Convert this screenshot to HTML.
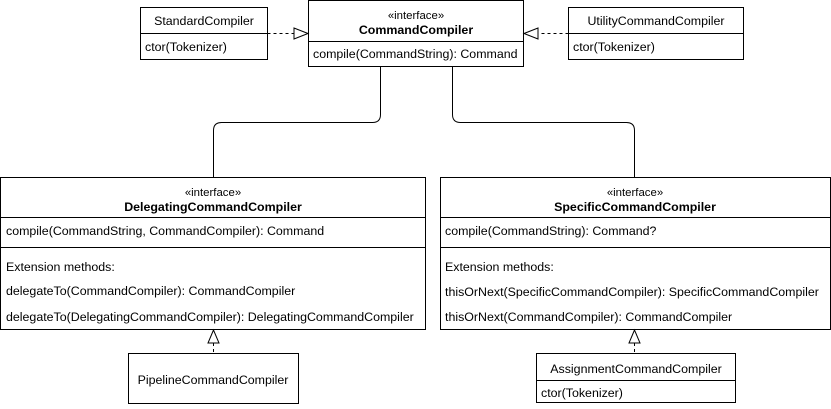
<!DOCTYPE html>
<html><head><meta charset="utf-8"><style>
html,body{margin:0;padding:0;background:#fff;}
svg{display:block;}
text{font-family:"Liberation Sans",Arial,sans-serif;font-size:12.4px;fill:#000;}
.b{font-weight:bold;}
.s{font-size:11.4px;}
</style></head><body>
<svg width="831" height="409" viewBox="0 0 831 409" xmlns="http://www.w3.org/2000/svg">
<g fill="#fff" stroke="#000" stroke-width="1">
<rect x="140.5" y="7.5" width="127" height="52"/>
<line x1="140.5" y1="33.5" x2="267.5" y2="33.5"/>
<rect x="308.5" y="0.5" width="215" height="66"/>
<line x1="308.5" y1="41.5" x2="523.5" y2="41.5"/>
<rect x="568.5" y="7.5" width="175" height="52"/>
<line x1="568.5" y1="33.5" x2="743.5" y2="33.5"/>
<rect x="0.5" y="177.5" width="425" height="152"/>
<line x1="0.5" y1="217.5" x2="425.5" y2="217.5"/>
<line x1="0.5" y1="247.5" x2="425.5" y2="247.5"/>
<rect x="440.5" y="177.5" width="390" height="152"/>
<line x1="440.5" y1="217.5" x2="830.5" y2="217.5"/>
<line x1="440.5" y1="247.5" x2="830.5" y2="247.5"/>
<rect x="128.5" y="353.5" width="170" height="50"/>
<rect x="536.5" y="353.5" width="199" height="49"/>
<line x1="536.5" y1="380.5" x2="735.5" y2="380.5"/>
</g>
<g fill="none" stroke="#000" stroke-width="1">
<path d="M380.5 66.5 V114.5 Q380.5 122.5 372.5 122.5 H221.5 Q213.5 122.5 213.5 130.5 V177.5"/>
<path d="M452.5 66.5 V114.5 Q452.5 122.5 460.5 122.5 H626.5 Q634.5 122.5 634.5 130.5 V177.5"/>
<line x1="267.5" y1="33.5" x2="294" y2="33.5" stroke-dasharray="3,3"/>
<line x1="568.5" y1="33.5" x2="538" y2="33.5" stroke-dasharray="3,3"/>
<line x1="213.5" y1="343" x2="213.5" y2="353.5" stroke-dasharray="3,3"/>
<line x1="634.5" y1="343" x2="634.5" y2="353.5" stroke-dasharray="3,3"/>
</g>
<g fill="#fff" stroke="#000" stroke-width="1">
<polygon points="308,33.5 294,28 294,39"/>
<polygon points="524,33.5 538,28 538,39"/>
<polygon points="213.5,330 208,343 219,343"/>
<polygon points="634.5,330 629,343 640,343"/>
</g>
<text x="204" y="25" text-anchor="middle">StandardCompiler</text>
<text x="145" y="51">ctor(Tokenizer)</text>
<text x="416" y="19" text-anchor="middle" class="s">«interface»</text>
<text x="416" y="34" text-anchor="middle" class="b">CommandCompiler</text>
<text x="313" y="58">compile(CommandString): Command</text>
<text x="656" y="25" text-anchor="middle">UtilityCommandCompiler</text>
<text x="573" y="51">ctor(Tokenizer)</text>
<text x="213" y="196" text-anchor="middle" class="s">«interface»</text>
<text x="213" y="211" text-anchor="middle" class="b">DelegatingCommandCompiler</text>
<text x="6" y="235">compile(CommandString, CommandCompiler): Command</text>
<text x="6" y="271">Extension methods:</text>
<text x="6" y="295">delegateTo(CommandCompiler): CommandCompiler</text>
<text x="6" y="321">delegateTo(DelegatingCommandCompiler): DelegatingCommandCompiler</text>
<text x="635" y="196" text-anchor="middle" class="s">«interface»</text>
<text x="635" y="211" text-anchor="middle" class="b">SpecificCommandCompiler</text>
<text x="445" y="235">compile(CommandString): Command?</text>
<text x="445" y="271">Extension methods:</text>
<text x="445" y="296">thisOrNext(SpecificCommandCompiler): SpecificCommandCompiler</text>
<text x="445" y="321">thisOrNext(CommandCompiler): CommandCompiler</text>
<text x="213" y="384" text-anchor="middle">PipelineCommandCompiler</text>
<text x="636" y="373" text-anchor="middle">AssignmentCommandCompiler</text>
<text x="541" y="397">ctor(Tokenizer)</text>
</svg>
</body></html>
